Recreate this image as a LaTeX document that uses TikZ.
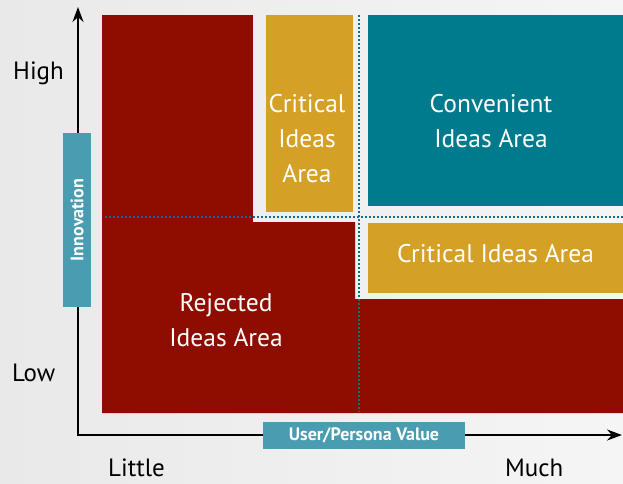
\documentclass[tikz,border=0pt]{standalone}
\usepackage{fontspec}
\setmainfont{PT Sans}
\usetikzlibrary{arrows.meta}
\definecolor{rejclr}{RGB}{143,13,0}
\definecolor{critclr}{RGB}{212,160,38}
\definecolor{convclr}{RGB}{0,122,141}
\definecolor{tagclr}{RGB}{74,157,176}
\definecolor{sepclr}{RGB}{10,112,135}
\definecolor{bgleft}{RGB}{233,233,233}
\definecolor{bgright}{RGB}{245,245,245}
\tikzset{
    areatext/.style={text=white,align=center,inner sep=0pt,font=\fontsize{25.5}{35}\selectfont},
    scaletext/.style={text=black,inner sep=0pt,anchor=base west,font=\fontsize{25}{28}\selectfont},
    tag/.style={fill=tagclr,text=white,inner sep=0pt,font=\bfseries\fontsize{18}{20}\selectfont},
    axisline/.style={line width=1.8pt,{Stealth[length=15pt,width=11pt]}-{Stealth[length=15pt,width=11pt]}},
    divider/.style={sepclr,line width=2.3pt,dash pattern=on 2pt off 2pt},
}

\begin{document}
\begin{tikzpicture}[x=1pt,y=-1pt]
% background
\fill[left color=bgleft,right color=bgright] (0,0) rectangle (623,483);
\useasboundingbox (0,0) rectangle (623,483);

% areas
\fill[rejclr] (102,15) rectangle (253,223);
\fill[rejclr] (102,222) -- (355,222) -- (355,299) -- (623,299) -- (623,413) -- (102,413) -- cycle;
\fill[critclr] (266,15) rectangle (353,212);
\fill[convclr] (368,15) rectangle (623,206);
\fill[critclr] (368,223) rectangle (623,293);

% dotted dividers
\coordinate (vtop) at (359,15);
\coordinate (vbot) at (359,412);
\coordinate (hleft) at (105,217);
\coordinate (hright) at (623,217);
\draw[divider] (vtop) -- (vbot);
\draw[divider] (hleft) -- (hright);

% area labels
\node[areatext] (critv) at (307,139) {Critical\\Ideas\\Area};
\node[areatext] (conv)  at (491,121) {Convenient\\Ideas Area};
\node[areatext] (crith) at (495.5,254) {Critical Ideas Area};
\node[areatext] (rej)   at (226,320) {Rejected\\Ideas Area};

% axes
\coordinate (ytip) at (78,7);
\coordinate (origin) at (78,435);
\coordinate (xtip) at (622,435);
\draw[axisline] (ytip) -- (origin) -- (xtip);
\node[tag,rotate=90,minimum width=174pt,minimum height=28pt] (innov) at (77,220) {Innovation};
\node[tag,minimum width=202pt,minimum height=27pt] (value) at (364,435.5) {User/Persona Value};

% scale labels
\node[scaletext] (high)   at (13,79)  {High};
\node[scaletext] (low)    at (12,381) {Low};
\node[scaletext] (little) at (108,476.5) {Little};
\node[scaletext] (much)   at (505,476.5) {Much};
\end{tikzpicture}
\end{document}
